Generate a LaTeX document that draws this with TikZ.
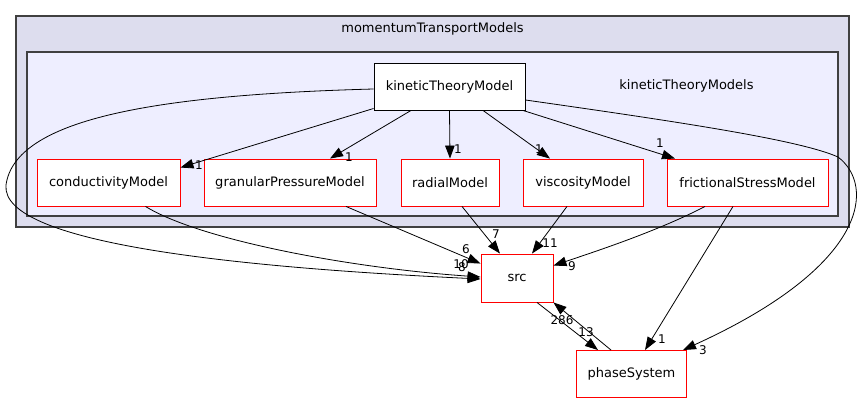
\documentclass[tikz,border=0pt]{standalone}
\usepackage{fontspec}
\setmainfont{DejaVu Sans}
\usetikzlibrary{arrows.meta}
\definecolor{outerfill}{HTML}{DDDDEE}
\definecolor{innerfill}{HTML}{EEEEFF}
\definecolor{framegray}{HTML}{404040}
\tikzset{
  dirbox/.style={draw=red, fill=white, line width=0.9pt, minimum height=47pt, inner sep=0pt, font=\fontsize{13}{15}\selectfont},
  topbox/.style={dirbox, draw=black},
  dep/.style={-{Triangle[length=13pt,width=9.5pt]}, line width=0.8pt},
  num/.style={inner sep=0pt, font=\fontsize{12}{14}\selectfont},
  cluslbl/.style={inner sep=0pt, font=\fontsize{13}{15}\selectfont}
}
\begin{document}
\begin{tikzpicture}[x=1pt, y=-1pt]
\useasboundingbox (0,0) rectangle (865,404);
\draw[framegray, fill=outerfill, line width=1.2pt] (16,16) rectangle (849,227);
\node[cluslbl] (outerlbl) at (432.5,29) {momentumTransportModels};
\draw[framegray, fill=innerfill, line width=1.2pt] (27,52) rectangle (838,216);
\node[cluslbl] (innerlbl) at (686.5,86) {kineticTheoryModels};

\node[topbox, minimum width=151pt] (ktm) at (449.5,86.5) {kineticTheoryModel};
\node[dirbox, minimum width=143pt] (cond) at (108.5,182.5) {conductivityModel};
\node[dirbox, minimum width=172pt] (gpm) at (290,182.5) {granularPressureModel};
\node[dirbox, minimum width=98pt] (rad) at (450,182.5) {radialModel};
\node[dirbox, minimum width=120pt] (visc) at (583,182.5) {viscosityModel};
\node[dirbox, minimum width=161pt] (fric) at (747.5,182.5) {frictionalStressModel};
\node[dirbox, minimum width=72pt, minimum height=48pt] (src) at (517,278) {src};
\node[dirbox, minimum width=110pt] (phase) at (631.5,374) {phaseSystem};

\draw[dep] ([yshift=-22pt]ktm.west) -- ([yshift=-9pt]cond.north east);
\draw[dep] ([xshift=-38.5pt]ktm.south) -- ([xshift=40pt]gpm.north);
\draw[dep] (ktm.south) -- (rad.north);
\draw[dep] ([xshift=33.5pt]ktm.south) -- ([xshift=-33pt]visc.north);
\draw[dep] ([xshift=73.5pt]ktm.south) -- ([xshift=-72.5pt]fric.north);
\draw[dep] ([yshift=-2.5pt]ktm.west) .. controls (150,95) and (15,120) .. (6,185)
  .. controls (0,245) and (250,268) .. ([yshift=-1pt]src.west);
\draw[dep] ([xshift=37pt]cond.south) .. controls (200,240) and (350,268) .. ([yshift=1pt]src.west);
\draw[dep] ([yshift=-13.5pt]ktm.east) .. controls (680,122) and (800,140) .. (838,157)
  .. controls (875,185) and (870,265) .. ([xshift=-4pt]phase.north east);
\draw[dep] ([xshift=56pt]gpm.south) -- ([yshift=-10pt]src.north west);
\draw[dep] ([xshift=12pt]rad.south) -- ([xshift=-17pt]src.north);
\draw[dep] ([xshift=-16pt]visc.south) -- ([xshift=15pt]src.north);
\draw[dep] ([xshift=-42.5pt]fric.south) .. controls (660,230) and (600,250) .. ([yshift=-12pt]src.north east);
\draw[dep] ([xshift=-14.5pt]fric.south) -- ([xshift=13.5pt]phase.north);
\draw[dep] ([xshift=20pt]src.south) -- ([xshift=-33.5pt]phase.north);
\draw[dep] ([xshift=-20.5pt]phase.north) -- (src.south east);

\node[num] (l1) at (199,165) {1};
\node[num] (l2) at (349,157) {1};
\node[num] (l3) at (458,149) {1};
\node[num] (l4) at (539,149) {1};
\node[num] (l5) at (660,143) {1};
\node[num] (l6) at (466,249) {6};
\node[num] (l7) at (496,234) {7};
\node[num] (l8) at (550,243) {11};
\node[num] (l9) at (461,264) {10};
\node[num] (l10) at (462,267) {8};
\node[num] (l11) at (572,266) {9};
\node[num] (l12) at (562,320) {286};
\node[num] (l13) at (586,332) {13};
\node[num] (l14) at (662,339) {1};
\node[num] (l15) at (703,350) {3};
\end{tikzpicture}
\end{document}
